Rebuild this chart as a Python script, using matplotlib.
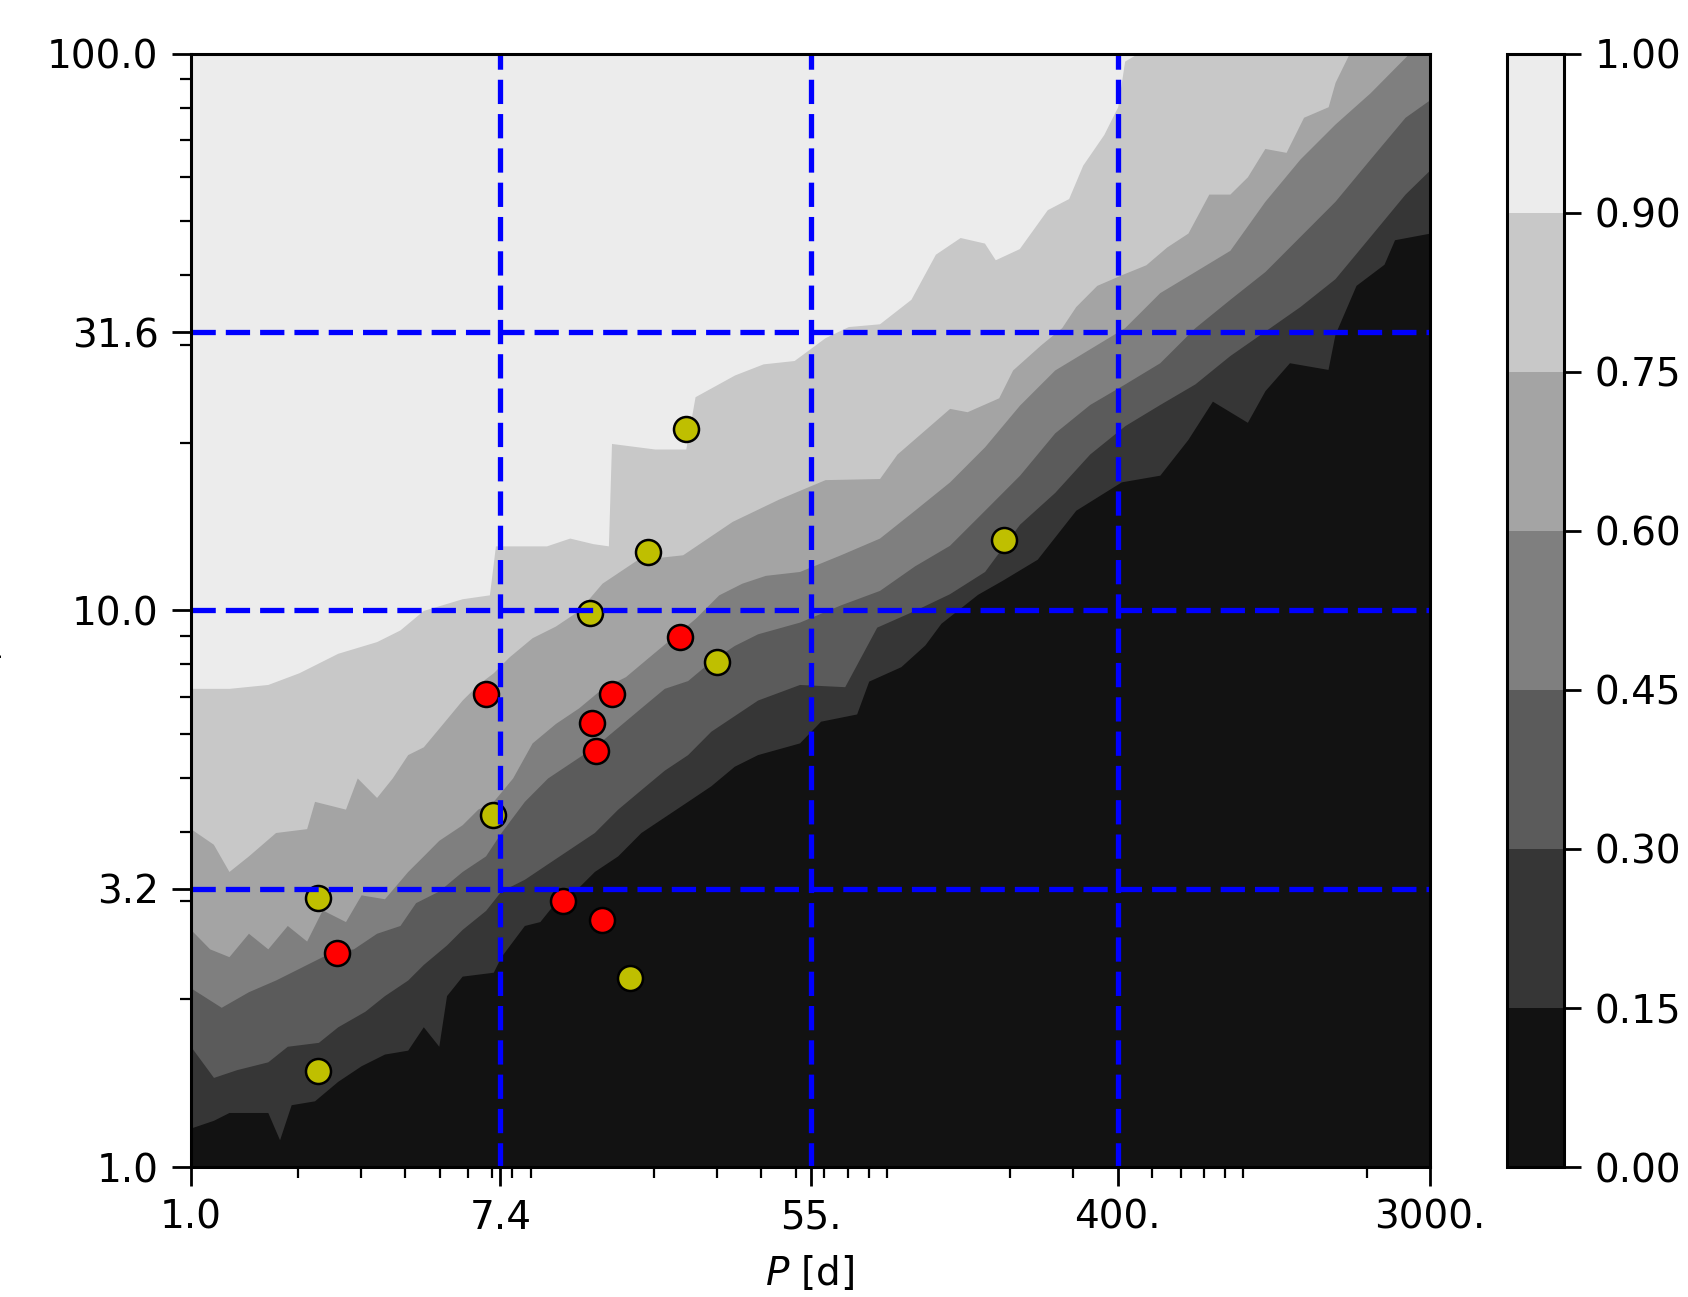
import numpy as np
import matplotlib
matplotlib.use("Agg")
import matplotlib.pyplot as plt
from matplotlib.colors import ListedColormap, BoundaryNorm
from matplotlib.cm import ScalarMappable
from matplotlib.ticker import LogLocator, NullFormatter

# niveles del mapa de completitud y sus grises
levels = [0.0, 0.15, 0.30, 0.45, 0.60, 0.75, 0.90, 1.00]
band_colors = ['#121212', '#363636', '#5b5b5b', '#7f7f7f', '#a4a4a4', '#c8c8c8', '#ececec']

# ejes
x_ticks = [1.0, 7.4, 55.0, 400.0, 3000.0]
x_labels = ['1.0', '7.4', '55.', '400.', '3000.']
y_ticks = [1.0, 3.162, 10.0, 31.62, 100.0]
y_labels = ['1.0', '3.2', '10.0', '31.6', '100.0']

# bordes de cada nivel (ln P, log10 R)
b015_lnp = [0.0, 0.148, 0.248, 0.499, 0.575, 0.650, 0.801, 0.951, 1.102, 1.253, 1.403, 1.504, 1.604,
            1.654, 1.755, 1.956, 2.006, 2.157, 2.257, 2.358, 2.508, 2.609, 2.760, 2.910, 3.061, 3.212,
            3.362, 3.513, 3.664, 3.935, 4.071, 4.304, 4.382, 4.590, 4.745, 4.849, 5.086, 5.244, 5.471,
            5.720, 6.014, 6.263, 6.444, 6.603, 6.829, 6.943, 7.101, 7.350, 7.395, 7.531, 7.712, 7.780, 8.01]
b015_logr = [0.070, 0.084, 0.098, 0.098, 0.049, 0.112, 0.119, 0.154, 0.182, 0.203, 0.210, 0.252, 0.217,
             0.308, 0.343, 0.350, 0.378, 0.434, 0.441, 0.476, 0.503, 0.531, 0.559, 0.601, 0.629, 0.657,
             0.685, 0.720, 0.741, 0.762, 0.801, 0.814, 0.873, 0.899, 0.938, 0.977, 1.029, 1.054, 1.092,
             1.180, 1.231, 1.243, 1.307, 1.376, 1.338, 1.395, 1.445, 1.433, 1.496, 1.584, 1.622, 1.666, 1.678]

b030_lnp = [0.0, 0.148, 0.298, 0.499, 0.625, 0.826, 0.951, 1.127, 1.253, 1.403, 1.504, 1.654, 1.755,
            1.906, 2.006, 2.157, 2.307, 2.458, 2.609, 2.760, 2.910, 3.061, 3.212, 3.362, 3.513, 3.664,
            3.935, 4.227, 4.434, 4.678, 4.904, 5.131, 5.357, 5.584, 5.810, 6.037, 6.263, 6.490, 6.716,
            6.943, 7.169, 7.395, 7.622, 7.848, 8.01]
b030_logr = [0.217, 0.161, 0.175, 0.189, 0.217, 0.224, 0.252, 0.280, 0.308, 0.336, 0.364, 0.399, 0.427,
             0.461, 0.496, 0.517, 0.545, 0.573, 0.601, 0.643, 0.678, 0.713, 0.741, 0.783, 0.811, 0.839,
             0.867, 0.863, 0.970, 1.000, 1.030, 1.070, 1.155, 1.212, 1.281, 1.332, 1.370, 1.407, 1.458,
             1.502, 1.546, 1.596, 1.672, 1.748, 1.792]

b045_lnp = [0.0, 0.198, 0.374, 0.549, 0.700, 0.901, 1.052, 1.202, 1.353, 1.454, 1.604, 1.755, 1.906,
            2.006, 2.157, 2.307, 2.458, 2.609, 2.760, 2.910, 3.061, 3.212, 3.362, 3.513, 3.664, 3.935,
            4.200, 4.452, 4.678, 4.904, 5.131, 5.357, 5.584, 5.810, 6.037, 6.263, 6.490, 6.716, 6.943,
            7.169, 7.395, 7.622, 7.848, 8.01]
b045_logr = [0.322, 0.287, 0.315, 0.336, 0.357, 0.385, 0.392, 0.420, 0.434, 0.475, 0.496, 0.531, 0.559,
             0.601, 0.657, 0.699, 0.727, 0.755, 0.790, 0.825, 0.860, 0.874, 0.909, 0.937, 0.958, 0.979,
             1.010, 1.036, 1.080, 1.117, 1.180, 1.243, 1.319, 1.370, 1.407, 1.445, 1.508, 1.559, 1.609,
             1.672, 1.735, 1.811, 1.886, 1.918]

b060_lnp = [0.0, 0.123, 0.248, 0.374, 0.499, 0.625, 0.750, 0.851, 1.001, 1.102, 1.253, 1.403, 1.504,
            1.604, 1.755, 1.856, 1.956, 2.081, 2.207, 2.358, 2.508, 2.659, 2.810, 2.960, 3.111, 3.262,
            3.413, 3.563, 3.714, 3.935, 4.200, 4.452, 4.678, 4.905, 5.131, 5.357, 5.584, 5.810, 6.036,
            6.263, 6.490, 6.716, 6.942, 7.169, 7.396, 7.622, 7.871, 8.01]
b060_logr = [0.427, 0.392, 0.378, 0.420, 0.392, 0.434, 0.406, 0.462, 0.441, 0.489, 0.482, 0.531, 0.559,
             0.587, 0.615, 0.643, 0.657, 0.699, 0.762, 0.797, 0.825, 0.860, 0.881, 0.916, 0.951, 0.986,
             1.028, 1.049, 1.063, 1.070, 1.100, 1.130, 1.180, 1.231, 1.294, 1.369, 1.432, 1.470, 1.508,
             1.571, 1.609, 1.647, 1.735, 1.811, 1.874, 1.930, 2.000, 2.000]

b075_lnp = [0.0, 0.147, 0.248, 0.374, 0.549, 0.750, 0.801, 1.001, 1.077, 1.202, 1.303, 1.403, 1.504,
            1.630, 1.755, 1.856, 1.956, 2.056, 2.207, 2.358, 2.508, 2.659, 2.885, 3.180, 3.500, 3.800,
            4.100, 4.452, 4.565, 4.905, 5.018, 5.222, 5.312, 5.493, 5.629, 5.720, 5.856, 6.014, 6.173,
            6.308, 6.445, 6.580, 6.716, 6.829, 6.942, 7.079, 7.192, 7.351, 7.396, 7.486, 8.01]
b075_logr = [0.608, 0.580, 0.531, 0.559, 0.601, 0.608, 0.657, 0.643, 0.699, 0.664, 0.699, 0.741, 0.755,
             0.797, 0.839, 0.867, 0.888, 0.916, 0.951, 0.972, 1.000, 1.049, 1.091, 1.100, 1.160, 1.200,
             1.235, 1.237, 1.281, 1.363, 1.357, 1.382, 1.432, 1.477, 1.508, 1.546, 1.584, 1.603, 1.621,
             1.653, 1.678, 1.748, 1.748, 1.779, 1.830, 1.823, 1.886, 1.905, 1.949, 2.000, 2.000]

b090_lnp = [0.0, 0.248, 0.499, 0.700, 0.951, 1.202, 1.353, 1.504, 1.755, 1.931, 1.970, 2.300, 2.450,
            2.600, 2.700, 2.720, 3.000, 3.200, 3.260, 3.515, 3.700, 3.900, 4.100, 4.250, 4.452, 4.655,
            4.813, 4.973, 5.130, 5.200, 5.355, 5.536, 5.674, 5.765, 5.901, 5.991, 6.036, 6.116, 8.01]
b090_logr = [0.860, 0.860, 0.867, 0.888, 0.923, 0.944, 0.965, 1.000, 1.021, 1.028, 1.116, 1.116, 1.130,
             1.120, 1.116, 1.300, 1.290, 1.290, 1.384, 1.423, 1.443, 1.449, 1.490, 1.510, 1.515, 1.559,
             1.640, 1.670, 1.660, 1.630, 1.650, 1.720, 1.740, 1.800, 1.855, 1.905, 1.987, 2.000, 2.000]

# planetas
yellow_P = [24.6, 19.2, 13.2, 30.1, 191.6, 7.07, 2.28, 17.1, 2.28]
yellow_R = [21.2, 12.75, 9.91, 8.08, 13.4, 4.29, 3.04, 2.19, 1.49]
red_P = [23.6, 6.76, 15.2, 13.4, 13.7, 11.1, 14.3, 2.57]
red_R = [8.97, 7.07, 7.07, 6.27, 5.60, 3.00, 2.78, 2.42]

plt.rcParams['font.size'] = 28
fig = plt.figure(figsize=(16.88, 12.97), dpi=100)
ax = fig.add_axes([0.1129, 0.1002, 0.7340, 0.8583])
cax = fig.add_axes([0.8928, 0.1002, 0.0338, 0.8583])

# fondo: nivel mas oscuro, luego capas mas claras por encima de cada borde
ax.fill_between([x_ticks[0], x_ticks[-1]], y_ticks[0], y_ticks[-1], color=band_colors[0], lw=0)
bordes = [(b015_lnp, b015_logr), (b030_lnp, b030_logr), (b045_lnp, b045_logr),
          (b060_lnp, b060_logr), (b075_lnp, b075_logr), (b090_lnp, b090_logr)]
for (lnp, logr), col in zip(bordes, band_colors[1:]):
    ax.fill_between(np.exp(lnp), 10 ** np.array(logr), y_ticks[-1], color=col, lw=0)

ax.plot(yellow_P, yellow_R, 'o', color='y', mec='k', ms=18, mew=1.8, zorder=3)
ax.plot(red_P, red_R, 'o', color='r', mec='k', ms=18, mew=1.8, zorder=3)

# lineas punteadas azules en los ticks interiores
for v in x_ticks[1:-1]:
    ax.axvline(v, color='blue', ls=(0, (4.6, 1.9)), lw=3.8, zorder=4)
for v in y_ticks[1:-1]:
    ax.axhline(v, color='blue', ls=(0, (4.6, 1.9)), lw=3.8, zorder=4)

ax.set_xscale('log')
ax.set_yscale('log')
ax.set_xlim(x_ticks[0], x_ticks[-1])
ax.set_ylim(y_ticks[0], y_ticks[-1])
ax.set_xticks(x_ticks, x_labels)
ax.set_yticks(y_ticks, y_labels)
for eje in (ax.xaxis, ax.yaxis):
    eje.set_minor_locator(LogLocator(base=10, subs=np.arange(2, 10), numticks=50))
    eje.set_minor_formatter(NullFormatter())
ax.tick_params(which='major', length=14, width=2, pad=9, labelsize=28)
ax.tick_params(which='minor', length=8, width=1.6)
for s in ax.spines.values():
    s.set_linewidth(2.2)
    s.set_zorder(5)

ax.set_xlabel(r'$P$ [d]', fontsize=28)
ax.xaxis.set_label_coords(0.5, -0.078)
ax.set_ylabel(r'$R_p$ [$R_\oplus$]', fontsize=28)
ax.yaxis.set_label_coords(-0.150, 0.5)

sm = ScalarMappable(norm=BoundaryNorm(levels, len(band_colors)), cmap=ListedColormap(band_colors))
cb = fig.colorbar(sm, cax=cax, ticks=levels)
cb.ax.set_yticklabels(['%.2f' % l for l in levels])
cb.ax.tick_params(length=12, width=2, pad=10, labelsize=28)
cb.outline.set_linewidth(2.2)

fig.savefig('out.png', dpi=100)
